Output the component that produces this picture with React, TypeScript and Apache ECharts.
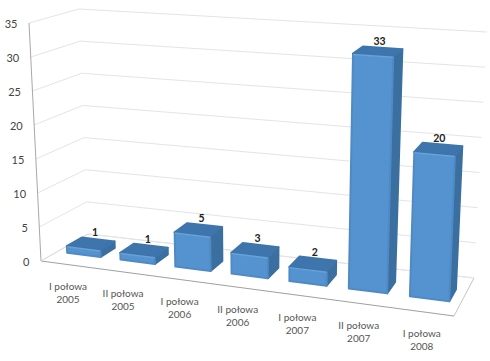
import React, { useEffect, useRef } from "react";
import * as echarts from "echarts";

const categories = ["I połowa\n2005", "II połowa\n2005", "I połowa\n2006", "II połowa\n2006", "I połowa\n2007", "II połowa\n2007", "I połowa\n2008"];
const values = [1, 1, 5, 3, 2, 33, 20];
const tickValues = [0, 5, 10, 15, 20, 25, 30, 35];

const W = 490;
const H = 361;
const FONT = "Lato, 'Open Sans', sans-serif";

// Perspective frame of the 3D plot: floor and top corners (front-left, front-right, back-right, back-left)
const FLOOR = [[41, 261], [454, 316], [474, 278], [88, 234]];
const TOP = [[29, 23], [463, 56], [487, 32], [79, 9]];
const PERSPECTIVE = 1.1;
const D0 = 0.35;
const D1 = 0.67;
const BAR_FRAC = 0.63;

const warp = (u: number) => u / (PERSPECTIVE - (PERSPECTIVE - 1) * u);

function bilinear(q: number[][], s: number, d: number) {
  const fx = q[0][0] + (q[1][0] - q[0][0]) * s;
  const fy = q[0][1] + (q[1][1] - q[0][1]) * s;
  const bx = q[3][0] + (q[2][0] - q[3][0]) * s;
  const by = q[3][1] + (q[2][1] - q[3][1]) * s;
  return [fx + (bx - fx) * d, fy + (by - fy) * d];
}

// u: 0..1 along categories, d: 0..1 front to back, t: 0..1 along the value axis
function project(u: number, d: number, t: number) {
  const s = warp(u);
  const p = bilinear(FLOOR, s, d);
  const q = bilinear(TOP, s, d);
  return [p[0] + (q[0] - p[0]) * t, p[1] + (q[1] - p[1]) * t];
}

function norm(params: any, api: any, cat: number, val: number) {
  const cs = params.coordSys;
  const c = api.coord([cat, val]);
  return { u: (c[0] - cs.x) / cs.width, t: 1 - (c[1] - cs.y) / cs.height };
}

const poly = (pts: number[][], fill: string, stroke?: string, lw = 0) => ({
  type: "polygon",
  shape: { points: pts },
  style: { fill, stroke: stroke || fill, lineWidth: lw, lineJoin: "round" },
});

function renderGrid(params: any, api: any) {
  const { t } = norm(params, api, 0, api.value(1));
  const a = project(0, 0, t);
  const b = project(0, 1, t);
  const c = project(1, 1, t);
  return {
    type: "polyline",
    shape: { points: [a, b, c] },
    style: { fill: "none", stroke: "#e4e4e4", lineWidth: 1 },
  };
}

function renderFrame(params: any, api: any) {
  const top = norm(params, api, 0, api.value(1)).t;
  const line = (p: number[], q: number[], stroke: string) => ({
    type: "line",
    shape: { x1: p[0], y1: p[1], x2: q[0], y2: q[1] },
    style: { stroke, lineWidth: 1 },
  });
  return {
    type: "group",
    children: [
      line(project(0, 0, 0), project(0, 0, top), "#a8a8a8"),
      line(project(0, 0, 0), project(1, 0, 0), "#a0a0a0"),
      line(project(1, 0, 0), project(1, 1, 0), "#c4c4c4"),
      line(project(0, 0, 0), project(0, 1, 0), "#dcdcdc"),
      line(project(0, 1, 0), project(1, 1, 0), "#e4e4e4"),
    ],
  };
}

function renderBar(params: any, api: any) {
  const cat = api.value(0);
  const { u, t } = norm(params, api, cat, api.value(1));
  const bw = api.size([1, 0])[0] / params.coordSys.width;
  const u0 = u - (bw * BAR_FRAC) / 2;
  const u1 = u + (bw * BAR_FRAC) / 2;
  const bev = 0.006;
  const fl = project(u0, D0, 0), fr = project(u1, D0, 0);
  const tl = project(u0, D0, t), tr = project(u1, D0, t);
  const br = project(u1, D1, t), bl = project(u0, D1, t);
  const brb = project(u1, D1, 0);
  const tlb = project(u0, D0, t - bev), trb = project(u1, D0, t - bev);
  return {
    type: "group",
    children: [
      poly([fr, brb, br, tr], "#3b6f9f", "#3b6f9f", 2),
      poly([fl, fr, tr, tl], "#5593d0", "#4f8ac4", 2),
      poly([tl, tr, br, bl], "#3d75ac", "#3d75ac", 2),
      poly([tlb, trb, tr, tl], "#69a2d8"),
    ],
  };
}

function renderValueLabel(params: any, api: any) {
  const cat = api.value(0);
  const v = api.value(1);
  const { u, t } = norm(params, api, cat, v);
  const p = project(u, D1, t);
  return {
    type: "text",
    style: {
      text: String(v),
      x: p[0] - 3,
      y: p[1] - 7,
      align: "center",
      verticalAlign: "middle",
      fontFamily: FONT,
      fontSize: 10.5,
      fontWeight: "bold",
      fill: "#222",
    },
  };
}

function renderTickLabel(params: any, api: any) {
  const v = api.value(1);
  const { t } = norm(params, api, 0, v);
  const p = project(0, 0, t);
  return {
    type: "text",
    style: {
      text: String(v),
      x: p[0] - 11.5,
      y: p[1] + 0.5,
      align: "right",
      verticalAlign: "middle",
      fontFamily: FONT,
      fontSize: 11,
      fill: "#444",
    },
  };
}

function renderCatLabel(params: any, api: any) {
  const cat = api.value(0);
  const { u } = norm(params, api, cat, 0);
  const p = project(u, 0, 0);
  return {
    type: "text",
    style: {
      text: categories[params.dataIndex],
      x: p[0],
      y: p[1] + 28,
      align: "center",
      verticalAlign: "middle",
      lineHeight: 13,
      fontFamily: FONT,
      fontSize: 10,
      fill: "#555",
    },
  };
}

export default function App() {
  const ref = useRef<HTMLDivElement>(null);
  useEffect(() => {
    document.body.style.margin = "0";
    const chart = echarts.init(ref.current!, undefined, { renderer: "svg" });
    const barData = values.map((v, i) => [i, v]);
    const tickData = tickValues.map((v) => [0, v]);
    const base = { type: "custom", silent: true, clip: false };
    chart.setOption({
      animation: false,
      backgroundColor: "#fff",
      grid: { left: 0, right: 0, top: 0, bottom: 0 },
      xAxis: { type: "category", data: categories, show: false },
      yAxis: { type: "value", min: 0, max: 35, interval: 5, show: false },
      series: [
        { ...base, z: 1, data: tickData, renderItem: renderGrid },
        { ...base, z: 2, data: [[0, tickValues[tickValues.length - 1]]], renderItem: renderFrame },
        { ...base, z: 3, data: barData, renderItem: renderBar },
        { ...base, z: 4, data: barData, renderItem: renderValueLabel },
        { ...base, z: 4, data: tickData, renderItem: renderTickLabel },
        { ...base, z: 4, data: barData, renderItem: renderCatLabel },
      ],
    });
    return () => chart.dispose();
  }, []);
  return <div ref={ref} style={{ width: W, height: H }} />;
}
